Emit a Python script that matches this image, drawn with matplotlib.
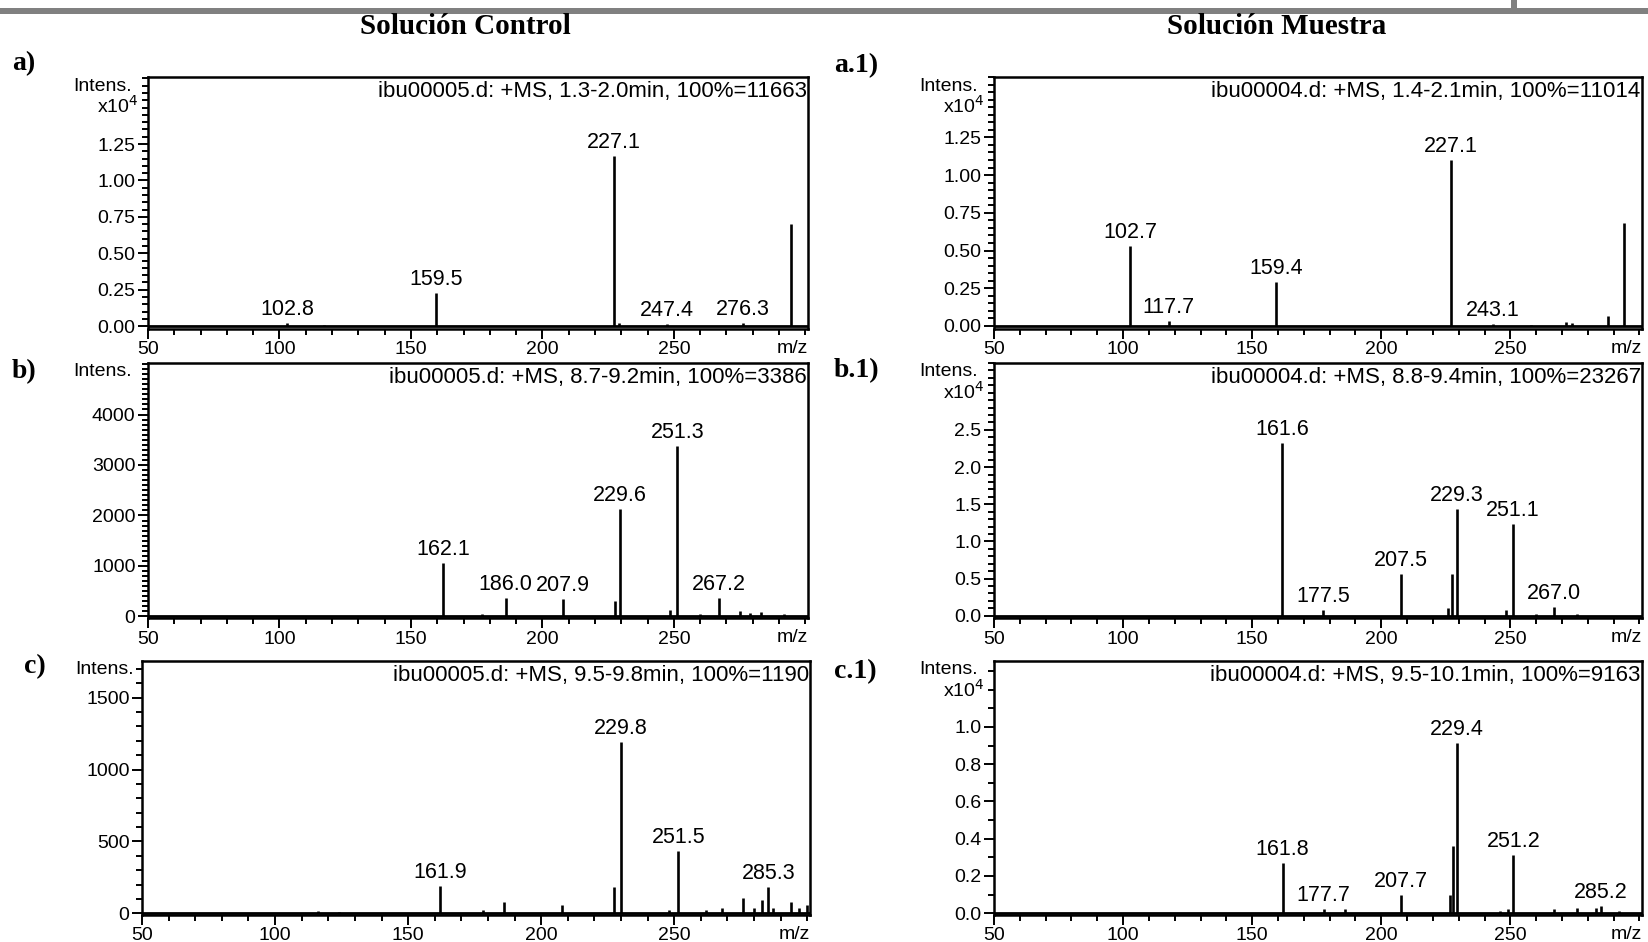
import matplotlib
matplotlib.use("Agg")
import matplotlib.pyplot as plt
import numpy as np
from matplotlib.ticker import MultipleLocator, FormatStrFormatter
from matplotlib.patches import Rectangle

plt.rcParams['font.family'] = ['Liberation Sans', 'DejaVu Sans']

# --- spectra (m/z, intensity) ---
# a) control, 1.3-2.0 min (x10^4)
mz_a = [102.8, 117.0, 159.5, 227.1, 229.0, 247.4, 276.3, 294.5]
int_a = [0.02, 0.006, 0.23, 1.166, 0.02, 0.012, 0.02, 0.70]
lab_a = [102.8, 159.5, 227.1, 247.4, 276.3]

# b) control, 8.7-9.2 min
mz_b = [162.1, 177.0, 186.0, 207.9, 227.5, 229.6, 248.5, 251.3, 260.0, 267.2, 275.0, 279.0, 283.0, 292.0]
int_b = [1050, 50, 360, 350, 300, 2130, 120, 3386, 40, 360, 100, 70, 80, 50]
lab_b = [162.1, 186.0, 207.9, 229.6, 251.3, 267.2]

# c) control, 9.5-9.8 min
mz_c = [116.0, 124.0, 161.9, 178.0, 186.0, 208.0, 227.5, 229.8, 248.0, 251.5, 262.0, 268.0,
        276.0, 280.0, 283.0, 285.3, 287.0, 294.0, 297.0, 300.0]
int_c = [15, 10, 190, 20, 80, 55, 185, 1190, 20, 430, 20, 35, 105, 40, 95, 185, 40, 75, 40, 60]
lab_c = [161.9, 229.8, 251.5, 285.3]

# a.1) sample, 1.4-2.1 min (x10^4)
mz_a1 = [102.7, 117.7, 159.4, 227.1, 243.1, 258.0, 271.5, 274.0, 288.0, 294.0]
int_a1 = [0.53, 0.03, 0.29, 1.10, 0.01, 0.006, 0.025, 0.02, 0.065, 0.68]
lab_a1 = [102.7, 117.7, 159.4, 227.1, 243.1]

# b.1) sample, 8.8-9.4 min (x10^4)
mz_b1 = [161.6, 177.5, 207.5, 226.0, 227.3, 229.3, 248.5, 251.1, 260.0, 267.0, 276.0]
int_b1 = [2.33, 0.08, 0.565, 0.10, 0.56, 1.43, 0.08, 1.24, 0.02, 0.12, 0.03]
lab_b1 = [161.6, 177.5, 207.5, 229.3, 251.1, 267.0]

# c.1) sample, 9.5-10.1 min (x10^4)
mz_c1 = [161.8, 177.7, 186.0, 207.7, 226.5, 227.7, 229.4, 246.0, 249.0, 251.2, 267.0, 276.0, 283.0, 285.2, 292.0]
int_c1 = [0.27, 0.02, 0.02, 0.097, 0.10, 0.36, 0.916, 0.01, 0.02, 0.313, 0.02, 0.025, 0.03, 0.04, 0.01]
lab_c1 = [161.8, 177.7, 207.7, 229.4, 251.2, 285.2]

headers = {
    'a': 'ibu00005.d: +MS, 1.3-2.0min, 100%=11663',
    'b': 'ibu00005.d: +MS, 8.7-9.2min, 100%=3386',
    'c': 'ibu00005.d: +MS, 9.5-9.8min, 100%=1190',
    'a1': 'ibu00004.d: +MS, 1.4-2.1min, 100%=11014',
    'b1': 'ibu00004.d: +MS, 8.8-9.4min, 100%=23267',
    'c1': 'ibu00004.d: +MS, 9.5-10.1min, 100%=9163',
}

W, H = 1648, 942
fig = plt.figure(figsize=(W / 100, H / 100), dpi=100)


def fx(px):
    return px / W


def fy(px):
    return 1 - px / H


# gray rule at the top of the page
fig.add_artist(Rectangle((0, fy(14)), 1, 6 / H, transform=fig.transFigure,
                         color='#808080', lw=0))
fig.add_artist(Rectangle((fx(1511), fy(14)), 6 / W, 14 / H, transform=fig.transFigure,
                         color='#808080', lw=0))

serif = dict(family=['Liberation Serif', 'DejaVu Serif'], weight='bold')
fig.text(fx(465), fy(27), 'Solución Control', ha='center', va='center', fontsize=21, **serif)
fig.text(fx(1277), fy(27), 'Solución Muestra', ha='center', va='center', fontsize=21, **serif)


def panel(rect, mz, inten, labels, header, ylim, top_tick, major, minor, fmt, x104, tag, tag_xy,
          intens_dx=-16):
    ax = fig.add_axes(rect)
    ax.axhline(0, color='black', lw=2.0, zorder=2)
    ax.vlines(mz, 0, inten, color='black', lw=1.9, zorder=3)
    lookup = dict(zip(mz, inten))
    for m in labels:
        ax.annotate(f'{m:.1f}', xy=(m, lookup[m]), xytext=(0, 3), textcoords='offset pixels',
                    ha='center', va='bottom', fontsize=15.5)
    ax.set_xlim(50, 301)
    ax.set_ylim(*ylim)
    ax.set_xticks([50, 100, 150, 200, 250])
    ax.xaxis.set_minor_locator(MultipleLocator(10))
    ax.set_yticks(np.arange(0, top_tick + major / 2, major))
    ax.yaxis.set_minor_locator(MultipleLocator(minor))
    ax.yaxis.set_major_formatter(FormatStrFormatter(fmt))
    ax.tick_params(which='both', direction='out', width=1.4, labelsize=14, pad=2)
    ax.tick_params(which='major', length=7)
    ax.tick_params(which='minor', length=4)
    for s in ax.spines.values():
        s.set_linewidth(1.8)
    ax.text(0.998, 0.985, header, transform=ax.transAxes, ha='right', va='top', fontsize=16)
    ax.annotate('m/z', xy=(1, 0), xycoords='axes fraction', xytext=(0, -11),
                textcoords='offset pixels', ha='right', va='top', fontsize=14)
    ax.annotate('Intens.', xy=(0, 1), xycoords='axes fraction', xytext=(intens_dx, -9),
                textcoords='offset pixels', ha='right', va='center', fontsize=14)
    if x104:
        ax.annotate(r'x10$^{4}$', xy=(0, 1), xycoords='axes fraction', xytext=(-10, -29),
                    textcoords='offset pixels', ha='right', va='center', fontsize=14)
    fig.text(fx(tag_xy[0]), fy(tag_xy[1]), tag, ha='left', va='center', fontsize=20, **serif)
    return ax


lx, lw_ = fx(148), fx(660)
rx, rw = fx(994), fx(648)
row_a = (fy(329), 252 / H)
row_b = (fy(618), 255 / H)
row_c = (fy(915), 254 / H)

panel([lx, row_a[0], lw_, row_a[1]], mz_a, int_a, lab_a, headers['a'],
      (-0.02, 1.71), 1.25, 0.25, 0.05, '%.2f', True, 'a)', (12, 64))
panel([lx, row_b[0], lw_, row_b[1]], mz_b, int_b, lab_b, headers['b'],
      (-30, 5020), 4000, 1000, 100, '%d', False, 'b)', (12, 372))
panel([fx(142), row_c[0], fx(668), row_c[1]], mz_c, int_c, lab_c, headers['c'],
      (-12, 1755), 1500, 500, 100, '%d', False, 'c)', (24, 667), intens_dx=-8)
panel([rx, row_a[0], rw, row_a[1]], mz_a1, int_a1, lab_a1, headers['a1'],
      (-0.02, 1.65), 1.25, 0.25, 0.05, '%.2f', True, 'a.1)', (834, 66))
panel([rx, row_b[0], rw, row_b[1]], mz_b1, int_b1, lab_b1, headers['b1'],
      (-0.03, 3.4), 2.5, 0.5, 0.1, '%.1f', True, 'b.1)', (834, 371))
panel([rx, row_c[0], rw, row_c[1]], mz_c1, int_c1, lab_c1, headers['c1'],
      (-0.01, 1.354), 1.0, 0.2, 0.1, '%.1f', True, 'c.1)', (834, 672))

fig.savefig('out.png', dpi=100)
